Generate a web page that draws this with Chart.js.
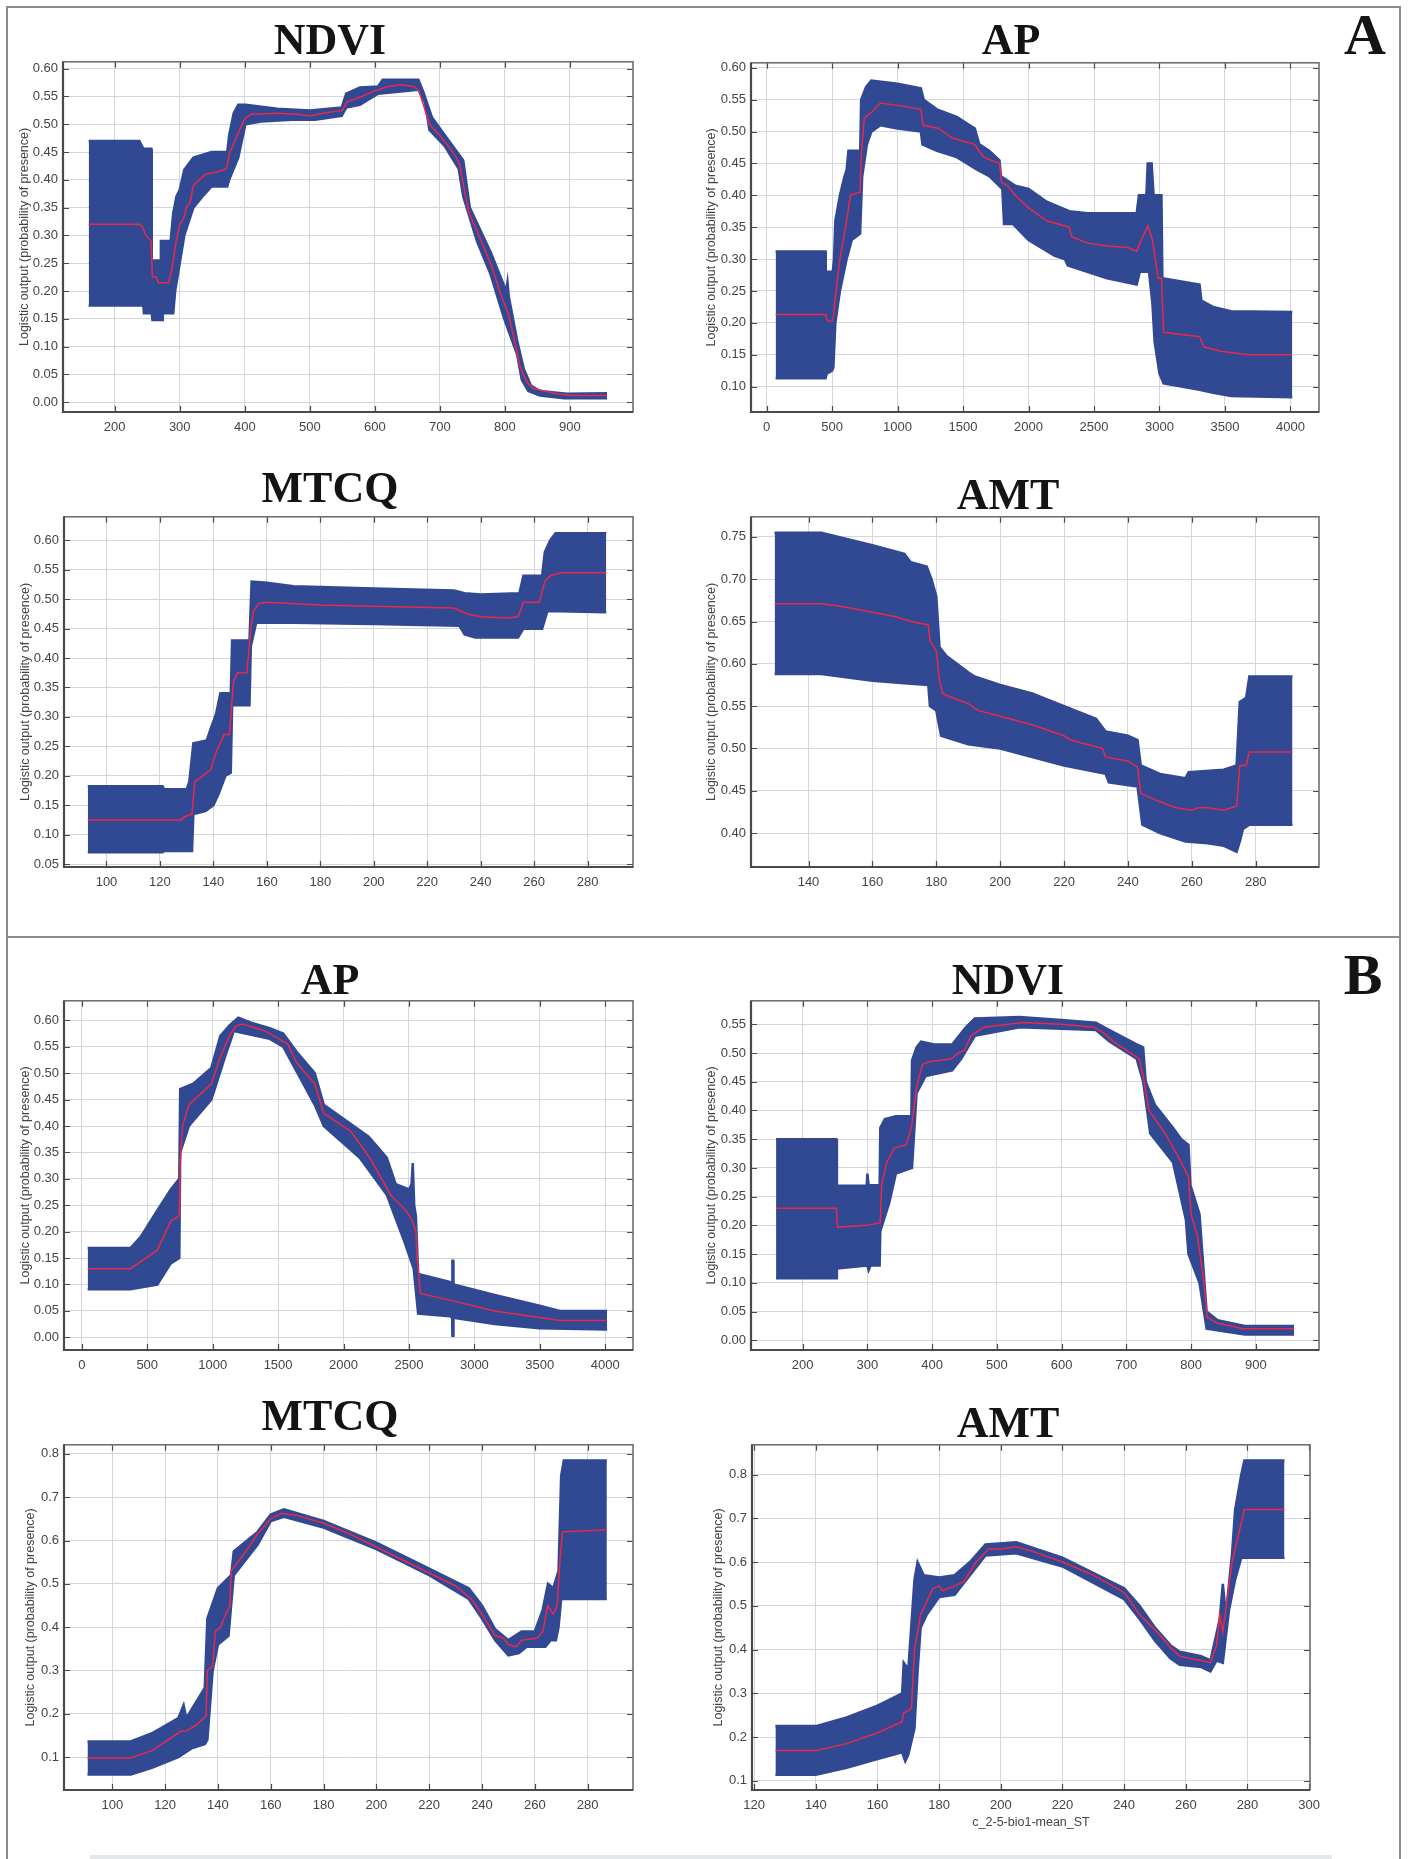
<!DOCTYPE html>
<html>
<head>
<meta charset="utf-8">
<title>Response curves</title>
<script src="https://cdn.jsdelivr.net/npm/chart.js"></script>
<style>
  body { margin: 0; background: #fff; }
  #page { position: relative; width: 1411px; height: 1859px; overflow: hidden; background: #fff; }
  .panel { position: absolute; }
  .ttl { position: absolute; font: bold 44px 'Liberation Serif', 'Times New Roman', serif; line-height: 1; color: #141414; transform: translateX(-50%); white-space: nowrap; }
  .big { font-size: 58px; }
  .line { position: absolute; background: #8c8c8c; }
</style>
</head>
<body>
<div id="page">
  <div class="line" style="left:6px;top:6px;width:1395px;height:2px"></div>
  <div class="line" style="left:6px;top:6px;width:2px;height:1853px"></div>
  <div class="line" style="left:1399px;top:6px;width:2px;height:1853px"></div>
  <div class="line" style="left:6px;top:936px;width:1395px;height:2px"></div>
  <div class="line" style="left:90px;top:1855px;width:1242px;height:4px;background:#e6e7ea"></div>
</div>
<script>
// ---- A: response curves (mean, upper and lower bound) ----
const ndviA_upper = [[160,0.47],[238,0.47],[244,0.456],[256,0.456],[257,0.255],[270,0.255],[271,0.29],[286,0.29],[290,0.34],[295,0.37],[300,0.382],[307,0.418],[321,0.44],[349,0.45],[373,0.45],[376,0.48],[383,0.52],[390,0.535],[401,0.535],[450,0.528],[500,0.525],[549,0.53],[556,0.555],[577,0.566],[605,0.568],[612,0.58],[667,0.58],[674,0.56],[688,0.512],[708,0.48],[736,0.435],[746,0.35],[778,0.27],[802,0.20],[804,0.216],[806,0.19],[819,0.11],[829,0.06],[840,0.03],[854,0.02],[895,0.015],[957,0.016]];
const ndviA_lower = [[160,0.174],[244,0.174],[245,0.16],[257,0.16],[258,0.148],[273,0.148],[274,0.16],[290,0.16],[293,0.20],[300,0.25],[307,0.30],[321,0.35],[335,0.37],[349,0.388],[373,0.388],[376,0.40],[390,0.44],[401,0.50],[425,0.505],[473,0.508],[508,0.508],[549,0.515],[556,0.53],[577,0.535],[605,0.555],[667,0.562],[677,0.54],[684,0.49],[708,0.46],[729,0.42],[736,0.37],[757,0.29],[778,0.23],[799,0.15],[819,0.085],[826,0.04],[836,0.02],[854,0.012],[891,0.007],[957,0.007]];
const ndviA_mean = [[160,0.32],[238,0.32],[243,0.315],[248,0.30],[256,0.29],[258,0.225],[264,0.225],[267,0.215],[283,0.215],[288,0.24],[293,0.28],[300,0.32],[306,0.33],[310,0.35],[316,0.36],[321,0.39],[330,0.40],[340,0.41],[360,0.415],[372,0.42],[377,0.45],[383,0.465],[392,0.49],[400,0.51],[410,0.518],[450,0.52],[480,0.518],[500,0.515],[520,0.52],[550,0.525],[557,0.54],[580,0.55],[600,0.56],[620,0.568],[640,0.571],[660,0.568],[668,0.56],[676,0.53],[684,0.50],[700,0.48],[720,0.45],[730,0.43],[738,0.38],[745,0.34],[760,0.30],[778,0.25],[795,0.19],[805,0.16],[815,0.11],[822,0.07],[828,0.05],[835,0.035],[843,0.025],[860,0.02],[880,0.015],[900,0.012],[957,0.012]];
const ndviA_xTicks = [200, 300, 400, 500, 600, 700, 800, 900];
const ndviA_yTicks = [0, 0.05, 0.10, 0.15, 0.20, 0.25, 0.30, 0.35, 0.40, 0.45, 0.50, 0.55, 0.60];

const apA_upper = [[69,0.312],[450,0.312],[452,0.28],[505,0.28],[515,0.30],[525,0.36],[560,0.40],[595,0.43],[611,0.44],[625,0.47],[715,0.47],[722,0.55],[760,0.57],[800,0.58],[1000,0.575],[1178,0.568],[1200,0.55],[1300,0.535],[1452,0.523],[1590,0.505],[1624,0.48],[1700,0.47],[1778,0.455],[1790,0.43],[1900,0.415],[2000,0.41],[2139,0.39],[2311,0.375],[2450,0.372],[2826,0.372],[2843,0.40],[2900,0.40],[2910,0.45],[2940,0.45],[2955,0.40],[3015,0.40],[3022,0.27],[3306,0.26],[3320,0.235],[3409,0.225],[3547,0.218],[4014,0.217]];
const apA_lower = [[69,0.113],[450,0.113],[460,0.12],[500,0.125],[510,0.13],[525,0.20],[560,0.25],[611,0.30],[650,0.33],[714,0.34],[730,0.43],[766,0.48],[800,0.50],[869,0.51],[1000,0.505],[1178,0.50],[1190,0.48],[1300,0.47],[1452,0.46],[1610,0.44],[1700,0.43],[1800,0.41],[1813,0.355],[1882,0.355],[2000,0.33],[2200,0.305],[2277,0.30],[2300,0.29],[2448,0.28],[2600,0.27],[2826,0.26],[2850,0.28],[2920,0.28],[2946,0.23],[2963,0.17],[3000,0.12],[3032,0.105],[3306,0.095],[3409,0.09],[3547,0.085],[4014,0.083]];
const apA_mean = [[69,0.213],[450,0.213],[460,0.205],[475,0.202],[500,0.203],[510,0.21],[525,0.24],[542,0.27],[560,0.30],[585,0.33],[611,0.36],[640,0.40],[663,0.402],[714,0.405],[722,0.46],[745,0.52],[766,0.525],[800,0.53],[869,0.545],[1040,0.54],[1178,0.535],[1195,0.51],[1315,0.505],[1418,0.49],[1590,0.48],[1620,0.47],[1659,0.46],[1778,0.45],[1795,0.42],[1840,0.415],[1899,0.40],[2002,0.38],[2140,0.36],[2311,0.35],[2330,0.335],[2450,0.325],[2620,0.32],[2757,0.318],[2826,0.312],[2860,0.33],[2912,0.352],[2946,0.33],[2990,0.27],[3015,0.27],[3032,0.185],[3306,0.178],[3341,0.162],[3478,0.155],[3684,0.15],[4010,0.15]];
const apA_xTicks = [0, 500, 1000, 1500, 2000, 2500, 3000, 3500, 4000];
const apA_yTicks = [0.10, 0.15, 0.20, 0.25, 0.30, 0.35, 0.40, 0.45, 0.50, 0.55, 0.60];

const mtcqA_upper = [[93,0.182],[121,0.182],[121.5,0.177],[130,0.177],[131,0.19],[132.5,0.255],[137.5,0.26],[139,0.28],[141,0.305],[142.6,0.34],[146.5,0.34],[147,0.43],[153.5,0.43],[154.3,0.53],[160,0.528],[170,0.522],[200,0.518],[230,0.515],[234,0.51],[240,0.508],[254.5,0.51],[256,0.54],[263,0.54],[264,0.58],[266,0.60],[268,0.612],[287,0.612]];
const mtcqA_lower = [[93,0.07],[121,0.07],[121.5,0.072],[132,0.072],[132.5,0.135],[137,0.14],[140,0.15],[142,0.17],[144.5,0.20],[146.5,0.205],[147,0.32],[153.5,0.32],[154,0.42],[156,0.46],[170,0.46],[200,0.458],[232,0.455],[234,0.44],[238,0.435],[254,0.435],[256,0.45],[263,0.45],[265,0.48],[287,0.478]];
const mtcqA_mean = [[93,0.125],[128,0.125],[129,0.13],[132,0.135],[133,0.19],[136,0.20],[139,0.21],[141,0.24],[144,0.27],[146,0.27],[147.5,0.36],[149,0.375],[152.5,0.375],[154,0.45],[155,0.48],[157,0.493],[160,0.495],[180,0.49],[200,0.488],[230,0.485],[235,0.475],[240,0.47],[250,0.468],[254,0.47],[256,0.495],[262,0.495],[264,0.53],[266,0.54],[270,0.545],[287,0.545]];
const mtcqA_xTicks = [100, 120, 140, 160, 180, 200, 220, 240, 260, 280];
const mtcqA_yTicks = [0.05, 0.10, 0.15, 0.20, 0.25, 0.30, 0.35, 0.40, 0.45, 0.50, 0.55, 0.60];

const amtA_upper = [[129.4,0.755],[144,0.755],[160,0.74],[170,0.73],[172,0.72],[177,0.715],[178.5,0.70],[180,0.68],[181,0.62],[183,0.61],[190,0.59],[192,0.585],[200,0.575],[210,0.565],[220,0.55],[230,0.535],[233,0.52],[240,0.515],[243,0.51],[244,0.48],[250,0.47],[258,0.465],[259,0.472],[270,0.475],[274,0.48],[275,0.555],[277,0.56],[278,0.585],[291.5,0.585]];
const amtA_lower = [[129.4,0.588],[144,0.588],[160,0.58],[170,0.577],[177.5,0.575],[178,0.55],[180,0.545],[181.5,0.515],[190,0.505],[200,0.50],[210,0.49],[220,0.48],[233,0.47],[234,0.46],[243,0.455],[244.5,0.41],[250,0.40],[258,0.39],[265,0.388],[270,0.385],[274,0.378],[275,0.39],[276,0.405],[278,0.41],[291.5,0.41]];
const amtA_mean = [[129.4,0.671],[144,0.671],[150,0.668],[160,0.661],[167,0.656],[172,0.65],[177.5,0.646],[178,0.628],[180,0.615],[181,0.58],[182,0.565],[185,0.56],[190,0.553],[193,0.545],[200,0.538],[210,0.528],[220,0.515],[222,0.51],[232,0.50],[233,0.49],[240,0.485],[243,0.478],[244,0.447],[250,0.437],[255,0.43],[260,0.427],[262,0.43],[265,0.43],[270,0.427],[274,0.432],[275,0.48],[277,0.48],[278,0.496],[291.5,0.496]];
const amtA_xTicks = [140, 160, 180, 200, 220, 240, 260, 280];
const amtA_yTicks = [0.40, 0.45, 0.50, 0.55, 0.60, 0.65, 0.70, 0.75];

// ---- B: response curves ----
const apB_upper = [[45,0.169],[371,0.169],[450,0.19],[577,0.24],[680,0.28],[745,0.30],[752,0.47],[852,0.48],[990,0.51],[1058,0.57],[1127,0.59],[1196,0.605],[1299,0.595],[1436,0.585],[1539,0.575],[1643,0.54],[1780,0.50],[1849,0.44],[2021,0.41],[2192,0.38],[2330,0.34],[2399,0.29],[2502,0.28],[2520,0.29],[2529,0.33],[2540,0.25],[2553,0.23],[2570,0.12],[2811,0.105],[2830,0.10],[2832,0.145],[2838,0.145],[2840,0.10],[3155,0.08],[3498,0.06],[3653,0.05],[4014,0.05]];
const apB_lower = [[45,0.091],[371,0.091],[577,0.10],[680,0.14],[745,0.15],[752,0.35],[818,0.40],[990,0.45],[1093,0.53],[1162,0.58],[1436,0.565],[1539,0.55],[1780,0.44],[1849,0.40],[2124,0.34],[2330,0.27],[2467,0.18],[2536,0.13],[2570,0.045],[2811,0.04],[2830,0.038],[2832,0.003],[2838,0.003],[2840,0.037],[3155,0.025],[3498,0.017],[4014,0.015]];
const apB_mean = [[45,0.13],[371,0.13],[577,0.165],[680,0.22],[745,0.23],[752,0.33],[770,0.40],[818,0.44],[990,0.48],[1058,0.53],[1127,0.57],[1180,0.59],[1230,0.593],[1400,0.58],[1574,0.555],[1640,0.52],[1780,0.48],[1849,0.424],[2055,0.39],[2200,0.34],[2364,0.268],[2467,0.243],[2519,0.224],[2553,0.20],[2562,0.15],[2575,0.12],[2587,0.083],[2835,0.069],[3155,0.05],[3653,0.032],[4010,0.032]];
const apB_xTicks = [0, 500, 1000, 1500, 2000, 2500, 3000, 3500, 4000];
const apB_yTicks = [0, 0.05, 0.10, 0.15, 0.20, 0.25, 0.30, 0.35, 0.40, 0.45, 0.50, 0.55, 0.60];

const ndviB_upper = [[159,0.35],[252,0.35],[253,0.269],[299,0.269],[300,0.29],[302,0.27],[319,0.27],[320,0.37],[327,0.385],[344,0.39],[368,0.39],[369,0.487],[376,0.51],[383,0.52],[403,0.515],[431,0.515],[452,0.545],[466,0.56],[535,0.563],[605,0.557],[653,0.553],[674,0.54],[716,0.515],[726,0.51],[730,0.45],[744,0.41],[772,0.37],[785,0.35],[796,0.34],[799,0.27],[813,0.22],[824,0.05],[841,0.035],[883,0.025],[959,0.025]];
const ndviB_lower = [[159,0.108],[252,0.108],[253,0.125],[300,0.13],[302,0.122],[305,0.13],[319,0.13],[320,0.19],[334,0.24],[344,0.29],[369,0.30],[376,0.43],[390,0.46],[431,0.47],[445,0.49],[466,0.53],[535,0.545],[653,0.54],[674,0.52],[716,0.49],[726,0.45],[737,0.36],[772,0.31],[792,0.21],[796,0.15],[813,0.10],[824,0.02],[883,0.01],[959,0.01]];
const ndviB_mean = [[159,0.23],[252,0.23],[254,0.197],[300,0.20],[318,0.204],[320,0.205],[322,0.27],[330,0.31],[342,0.335],[360,0.34],[368,0.37],[376,0.44],[385,0.48],[395,0.485],[430,0.49],[440,0.50],[450,0.505],[460,0.53],[480,0.545],[540,0.553],[600,0.55],[620,0.548],[650,0.545],[665,0.535],[680,0.52],[700,0.505],[720,0.49],[726,0.46],[735,0.40],[760,0.36],[780,0.32],[796,0.285],[800,0.22],[810,0.18],[820,0.10],[825,0.04],[840,0.03],[880,0.02],[959,0.02]];
const ndviB_xTicks = [200, 300, 400, 500, 600, 700, 800, 900];
const ndviB_yTicks = [0, 0.05, 0.10, 0.15, 0.20, 0.25, 0.30, 0.35, 0.40, 0.45, 0.50, 0.55];

const mtcqB_upper = [[90.6,0.136],[107,0.136],[115,0.155],[125,0.19],[127,0.22],[128,0.19],[135,0.26],[136,0.42],[140,0.49],[145,0.52],[146,0.575],[155,0.62],[160,0.66],[165,0.672],[180,0.645],[200,0.595],[220,0.535],[235,0.49],[240,0.45],[245,0.395],[250,0.37],[255,0.39],[260,0.39],[263,0.44],[265,0.50],[267,0.49],[269,0.53],[270,0.75],[271,0.785],[287.3,0.785]];
const mtcqB_lower = [[90.6,0.06],[107,0.06],[115,0.075],[125,0.10],[130,0.12],[135,0.13],[136,0.14],[138,0.30],[140,0.36],[144,0.38],[146,0.52],[155,0.59],[160,0.645],[165,0.655],[180,0.63],[200,0.58],[220,0.52],[235,0.465],[240,0.42],[245,0.37],[250,0.335],[254,0.34],[257,0.355],[264,0.355],[266,0.37],[268,0.37],[269,0.40],[270,0.465],[287.3,0.465]];
const mtcqB_mean = [[90.6,0.098],[107,0.098],[115,0.115],[120,0.135],[126,0.16],[128,0.16],[132,0.175],[135.5,0.195],[136,0.30],[138,0.31],[139,0.39],[141,0.40],[143,0.43],[144.5,0.45],[145,0.53],[150,0.57],[155,0.615],[160,0.65],[164,0.663],[170,0.658],[180,0.64],[190,0.615],[200,0.585],[210,0.555],[220,0.525],[230,0.495],[236,0.465],[240,0.43],[245,0.38],[248,0.375],[250,0.36],[253,0.355],[255,0.37],[261,0.375],[263,0.39],[265,0.45],[267,0.43],[268.5,0.45],[269.5,0.55],[270.5,0.62],[287.3,0.625]];
const mtcqB_xTicks = [100, 120, 140, 160, 180, 200, 220, 240, 260, 280];
const mtcqB_yTicks = [0.1, 0.2, 0.3, 0.4, 0.5, 0.6, 0.7, 0.8];

const amtB_upper = [[126.9,0.225],[140,0.225],[150,0.245],[160,0.272],[168,0.30],[168.5,0.37],[170,0.355],[172,0.56],[173,0.60],[175,0.57],[180,0.565],[185,0.57],[190,0.60],[195,0.64],[205,0.645],[220,0.61],[240,0.54],[245,0.50],[250,0.45],[255,0.41],[258,0.395],[265,0.385],[268,0.375],[271,0.47],[272,0.55],[273,0.48],[275,0.62],[276,0.72],[278,0.80],[279,0.832],[292,0.832]];
const amtB_lower = [[126.9,0.114],[140,0.114],[150,0.13],[160,0.15],[168,0.165],[169,0.145],[170,0.16],[172,0.22],[173,0.35],[174,0.45],[176,0.48],[180,0.52],[185,0.525],[190,0.57],[195,0.615],[205,0.62],[220,0.59],[240,0.515],[245,0.47],[250,0.42],[255,0.38],[258,0.365],[265,0.36],[268,0.35],[270,0.375],[272,0.37],[274,0.49],[276,0.56],[278,0.61],[292,0.61]];
const amtB_mean = [[126.9,0.169],[140,0.169],[150,0.185],[160,0.21],[168,0.235],[168.5,0.255],[171,0.265],[172,0.40],[174,0.48],[176,0.51],[178,0.54],[180,0.545],[181,0.535],[185,0.545],[188,0.555],[192,0.60],[196,0.63],[200,0.63],[205,0.635],[210,0.625],[220,0.60],[230,0.57],[240,0.53],[245,0.48],[250,0.445],[255,0.405],[258,0.385],[261,0.38],[265,0.375],[268,0.37],[270,0.41],[271,0.48],[272,0.44],[275,0.60],[279,0.72],[292,0.72]];
const amtB_xTicks = [120, 140, 160, 180, 200, 220, 240, 260, 280, 300];
const amtB_yTicks = [0.1, 0.2, 0.3, 0.4, 0.5, 0.6, 0.7, 0.8];

const yLabel = 'Logistic output (probability of presence)';
const amtB_xLabel = 'c_2-5-bio1-mean_ST';

// layout: plot box [left, top, right, bottom] in page pixels, title centre/baseline
const panels = [
  { title: 'NDVI', up: ndviA_upper, lo: ndviA_lower, mean: ndviA_mean, xt: ndviA_xTicks, yt: ndviA_yTicks, xr: [120.5, 997], yr: [-0.0177, 0.6124], dec: 2, box: [63, 57, 633, 412], ttl: [330, 55], gap: 38.5 },
  { title: 'AP', up: apA_upper, lo: apA_lower, mean: apA_mean, xt: apA_xTicks, yt: apA_yTicks, xr: [-119, 4218], yr: [0.060, 0.608], dec: 2, box: [751, 58, 1319, 412], ttl: [1011, 55], gap: 39 },
  { title: 'MTCQ', up: mtcqA_upper, lo: mtcqA_lower, mean: mtcqA_mean, xt: mtcqA_xTicks, yt: mtcqA_yTicks, xr: [84.1, 297], yr: [0.045, 0.64], dec: 2, box: [64, 512, 633, 867], ttl: [330, 503], gap: 38.5 },
  { title: 'AMT', up: amtA_upper, lo: amtA_lower, mean: amtA_mean, xt: amtA_xTicks, yt: amtA_yTicks, xr: [122, 299.8], yr: [0.360, 0.7737], dec: 2, box: [751, 512, 1319, 867], ttl: [1008, 510], gap: 39 },
  { title: 'AP', up: apB_upper, lo: apB_lower, mean: apB_mean, xt: apB_xTicks, yt: apB_yTicks, xr: [-136, 4212], yr: [-0.024, 0.637], dec: 2, box: [64, 996, 633, 1350], ttl: [330, 995], gap: 38.5 },
  { title: 'NDVI', up: ndviB_upper, lo: ndviB_lower, mean: ndviB_mean, xt: ndviB_xTicks, yt: ndviB_yTicks, xr: [120.3, 997.6], yr: [-0.017, 0.591], dec: 2, box: [751, 996, 1319, 1350], ttl: [1008, 995], gap: 39 },
  { title: 'MTCQ', up: mtcqB_upper, lo: mtcqB_lower, mean: mtcqB_mean, xt: mtcqB_xTicks, yt: mtcqB_yTicks, xr: [81.7, 297.2], yr: [0.024, 0.821], dec: 1, box: [64, 1440, 633, 1790], ttl: [330, 1431], gap: 33 },
  { title: 'AMT', up: amtB_upper, lo: amtB_lower, mean: amtB_mean, xt: amtB_xTicks, yt: amtB_yTicks, xr: [119.3, 300.3], yr: [0.079, 0.868], dec: 1, box: [752, 1440, 1320, 1790], ttl: [1008, 1438], gap: 33, xLabel: amtB_xLabel }
];

const BAND = '#314992';
const MEAN = '#e8294c';
const PAD_L = 62, PAD_T = 8, PAD_R = 8, PAD_B = 45;

Chart.defaults.font.family = "'Liberation Sans', Arial, sans-serif";

// matlab-like frame with inward tick marks
const frameTicks = {
    id: 'frameTicks',
    afterDraw(chart) {
        const { ctx, chartArea: a, scales: { x, y } } = chart;
        ctx.save();
        ctx.strokeStyle = '#4a4a4a';
        ctx.lineWidth = 1.2;
        ctx.beginPath();
        x.ticks.forEach(t => {
            const px = Math.round(x.getPixelForValue(t.value)) + 0.5;
            ctx.moveTo(px, a.bottom); ctx.lineTo(px, a.bottom - 6);
            ctx.moveTo(px, a.top); ctx.lineTo(px, a.top + 6);
        });
        y.ticks.forEach(t => {
            const py = Math.round(y.getPixelForValue(t.value)) + 0.5;
            ctx.moveTo(a.left, py); ctx.lineTo(a.left + 6, py);
            ctx.moveTo(a.right, py); ctx.lineTo(a.right - 6, py);
        });
        ctx.stroke();
        ctx.strokeStyle = '#707070';
        ctx.lineWidth = 1.6;
        ctx.strokeRect(a.left, a.top, a.right - a.left, a.bottom - a.top);
        ctx.strokeStyle = '#4a4a4a';
        ctx.lineWidth = 2.2;
        ctx.beginPath();
        ctx.moveTo(a.left, a.top); ctx.lineTo(a.left, a.bottom); ctx.lineTo(a.right, a.bottom);
        ctx.stroke();
        ctx.restore();
    }
};

const page = document.getElementById('page');
const toXY = arr => arr.map(p => ({ x: p[0], y: p[1] }));

function addText(cls, text, cx, baseline, size) {
    const d = document.createElement('div');
    d.className = cls;
    d.textContent = text;
    d.style.left = cx + 'px';
    d.style.top = (baseline - 0.8375 * size) + 'px';
    page.appendChild(d);
}

panels.forEach(p => {
    const [l, t, r, b] = p.box;
    const w = (r - l) + PAD_L + PAD_R;
    const h = (b - t) + PAD_T + PAD_B;
    const cv = document.createElement('canvas');
    cv.className = 'panel';
    cv.width = w; cv.height = h;
    cv.style.left = (l - PAD_L) + 'px';
    cv.style.top = (t - PAD_T) + 'px';
    cv.style.width = w + 'px'; cv.style.height = h + 'px';
    page.appendChild(cv);

    addText('ttl', p.title, p.ttl[0], p.ttl[1], 44);

    new Chart(cv.getContext('2d'), {
        type: 'line',
        data: {
            datasets: [
                { data: toXY(p.mean), borderColor: MEAN, borderWidth: 1.5, pointRadius: 0, fill: false, order: 0 },
                { data: toXY(p.up), borderColor: BAND, backgroundColor: BAND, borderWidth: 2.5, pointRadius: 0, fill: '+1', order: 1 },
                { data: toXY(p.lo), borderColor: BAND, borderWidth: 2.5, pointRadius: 0, fill: false, order: 2 },
            ],
        },
        options: {
            responsive: false,
            animation: false,
            devicePixelRatio: 1,
            layout: { padding: { left: 0, top: PAD_T, right: PAD_R, bottom: 0 } },
            plugins: { legend: { display: false }, tooltip: { enabled: false } },
            scales: {
                x: {
                    type: 'linear',
                    min: p.xr[0],
                    max: p.xr[1],
                    afterBuildTicks: s => { s.ticks = p.xt.map(v => ({ value: v })); },
                    afterFit: s => { s.height = PAD_B; },
                    grid: { color: '#d4d6dd', lineWidth: 1, drawTicks: false },
                    border: { display: false },
                    ticks: { autoSkip: false, maxRotation: 0, padding: 8, color: '#444', font: { size: 13 }, callback: v => String(v) },
                    title: { display: !!p.xLabel, text: p.xLabel || '', color: '#444', font: { size: 12.5 }, padding: { top: 0, bottom: 5 } },
                },
                y: {
                    type: 'linear',
                    min: p.yr[0],
                    max: p.yr[1],
                    afterBuildTicks: s => { s.ticks = p.yt.map(v => ({ value: v })); },
                    afterFit: s => { s.width = PAD_L; },
                    grid: { color: '#d4d6dd', lineWidth: 1, drawTicks: false },
                    border: { display: false },
                    ticks: { padding: 5, color: '#444', font: { size: 13 }, callback: v => Number(v).toFixed(p.dec) },
                    title: { display: true, text: yLabel, color: '#444', font: { size: 12.5 }, padding: { top: PAD_L - p.gap - 7.5, bottom: 0 } },
                },
            },
        },
        plugins: [frameTicks],
    });
});

addText('ttl big', 'A', 1365, 55, 58);
addText('ttl big', 'B', 1363, 995, 58);
</script>
</body>
</html>
